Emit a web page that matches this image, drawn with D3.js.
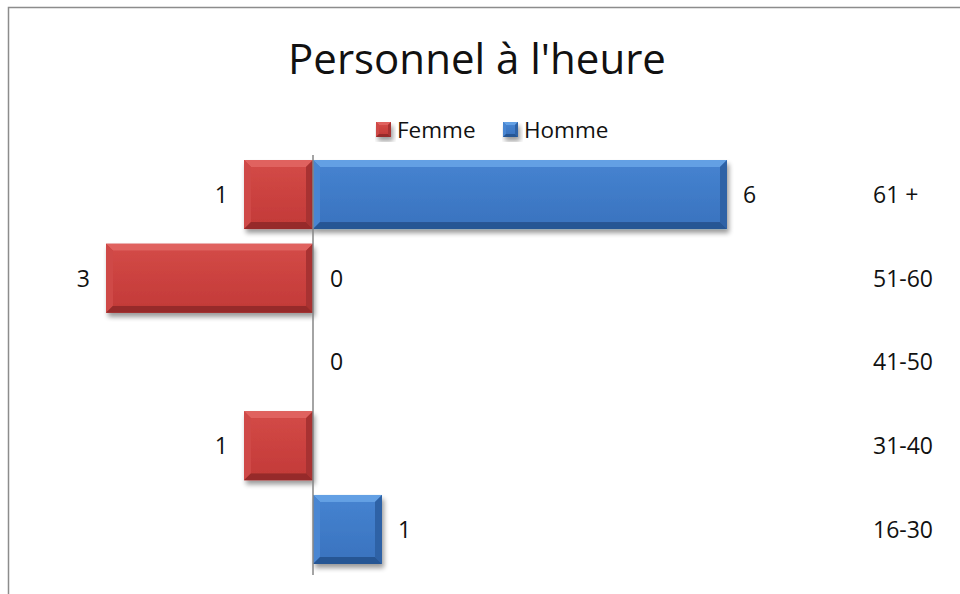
<!DOCTYPE html>
<html lang="fr">
<head>
<meta charset="utf-8">
<script src="https://d3js.org/d3.v7.min.js"></script>
<style>
  body { margin: 0; background: #fff; }
  svg { display: block; font-family: "Open Sans", "Liberation Sans", sans-serif; }
</style>
</head>
<body>
<svg id="chart" width="960" height="594"></svg>
<script>
// data
const categories = ["61 +", "51-60", "41-50", "31-40", "16-30"];
const femme = [1, 3, null, 1, null];
const homme = [6, 0, 0, null, 1];
const seriesNames = ["Femme", "Homme"];

const svg = d3.select("#chart");

// frame
svg.append("rect")
    .attr("x", 8.5).attr("y", 7.5)
    .attr("width", 1000).attr("height", 1000)
    .attr("fill", "none").attr("stroke", "#8c8c8c").attr("stroke-width", 1.5);

// shadow filter
const defs = svg.append("defs");
const f = defs.append("filter").attr("id", "shadow").attr("x", "-20%").attr("y", "-20%").attr("width", "150%").attr("height", "150%");
f.append("feGaussianBlur").attr("in", "SourceAlpha").attr("stdDeviation", 2.5).attr("result", "b");
f.append("feOffset").attr("in", "b").attr("dx", 2).attr("dy", 4).attr("result", "o");
f.append("feComponentTransfer").attr("in", "o").attr("result", "s")
  .append("feFuncA").attr("type", "linear").attr("slope", 0.4);
const m = f.append("feMerge");
m.append("feMergeNode").attr("in", "s");
m.append("feMergeNode").attr("in", "SourceGraphic");

const palette = {
  Femme: { face: "#c43b39", faceTop: "#d24946", top: "#e0625f", left: "#cf4a47", right: "#a83230", bottom: "#962b29" },
  Homme: { face: "#3a74c0", faceTop: "#4582cf", top: "#64a0e4", left: "#4a86d2", right: "#2f62a6", bottom: "#285694" }
};
Object.entries(palette).forEach(([k, c]) => {
  const g = defs.append("linearGradient").attr("id", "grad" + k).attr("x1", 0).attr("y1", 0).attr("x2", 0).attr("y2", 1);
  g.append("stop").attr("offset", "0%").attr("stop-color", c.faceTop);
  g.append("stop").attr("offset", "100%").attr("stop-color", c.face);
});

function bevelBar(g, x, y, w, h, c, name, b) {
  const grp = g.append("g").attr("filter", "url(#shadow)");
  grp.append("rect").attr("x", x).attr("y", y).attr("width", w).attr("height", h).attr("fill", c.face);
  const pts = a => a.map(p => p.join(",")).join(" ");
  grp.append("polygon").attr("points", pts([[x, y], [x + w, y], [x + w - b, y + b], [x + b, y + b]])).attr("fill", c.top);
  grp.append("polygon").attr("points", pts([[x, y], [x + b, y + b], [x + b, y + h - b], [x, y + h]])).attr("fill", c.left);
  grp.append("polygon").attr("points", pts([[x + w, y], [x + w, y + h], [x + w - b, y + h - b], [x + w - b, y + b]])).attr("fill", c.right);
  grp.append("polygon").attr("points", pts([[x, y + h], [x + b, y + h - b], [x + w - b, y + h - b], [x + w, y + h]])).attr("fill", c.bottom);
  grp.append("rect").attr("x", x + b).attr("y", y + b).attr("width", Math.max(0, w - 2 * b)).attr("height", Math.max(0, h - 2 * b))
    .attr("fill", "url(#grad" + name + ")");
}

// scales
const x = d3.scaleLinear().domain([-3, 6]).range([106, 727]);
const y = d3.scaleBand().domain(categories).range([153, 571]).paddingInner(0.176).paddingOuter(0.084);

// title
svg.append("text")
    .attr("x", 477).attr("y", 74)
    .attr("text-anchor", "middle")
    .attr("font-size", 42).attr("fill", "#111")
    .text("Personnel à l'heure");

// legend
const legendX = [376, 503];
seriesNames.forEach((s, i) => {
  const lg = svg.append("g");
  bevelBar(lg, legendX[i], 122, 15, 15, palette[s], s, 3);
  lg.append("text").attr("x", legendX[i] + 21).attr("y", 138)
    .attr("font-size", 22.5).attr("fill", "#111").text(s);
});

const bars = svg.append("g");
const labels = svg.append("g").attr("font-size", 23).attr("fill", "#111");

categories.forEach((cat, i) => {
  const yy = y(cat), bh = y.bandwidth(), cy = yy + bh / 2;
  const fv = femme[i], hv = homme[i];
  if (fv != null) {
    if (fv > 0) bevelBar(bars, x(-fv), yy, x(0) - x(-fv), bh, palette.Femme, "Femme", 7);
    labels.append("text").attr("x", x(-fv) - 16).attr("y", cy).attr("dy", "0.36em")
      .attr("text-anchor", "end").text(fv);
  }
  if (hv != null) {
    if (hv > 0) bevelBar(bars, x(0), yy, x(hv) - x(0), bh, palette.Homme, "Homme", 7);
    labels.append("text").attr("x", x(hv) + (hv > 0 ? 16 : 17)).attr("y", cy).attr("dy", "0.36em")
      .attr("text-anchor", "start").text(hv);
  }
  labels.append("text").attr("x", 873).attr("y", cy).attr("dy", "0.36em")
    .text(cat);
});

// vertical axis at zero
svg.append("line")
    .attr("x1", x(0)).attr("x2", x(0))
    .attr("y1", y.range()[0] + 2).attr("y2", y.range()[1] + 4)
    .attr("stroke", "#868686").attr("stroke-width", 1.5);
</script>
</body>
</html>
